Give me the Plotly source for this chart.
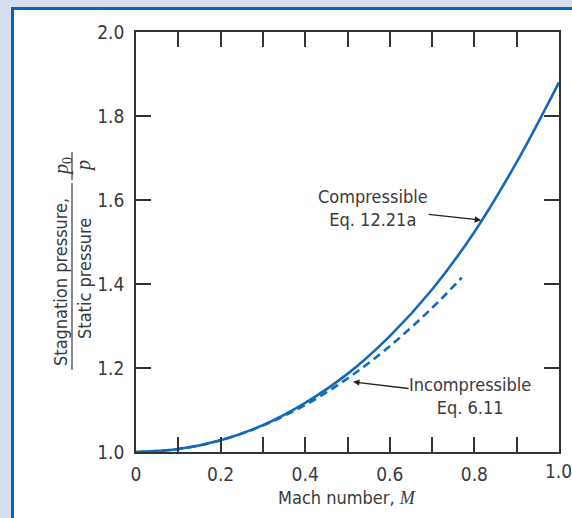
import plotly.graph_objects as go

# ---- data ----
mach_comp = [0.0, 0.1, 0.2, 0.3, 0.4, 0.5, 0.6, 0.7, 0.8, 0.9, 1.0]
ratio_comp = [1.000, 1.007, 1.028, 1.064, 1.117, 1.186, 1.276, 1.387, 1.524, 1.690, 1.880]

mach_incomp = [0.0, 0.1, 0.2, 0.3, 0.4, 0.5, 0.6, 0.7, 0.77]
ratio_incomp = [1.000, 1.007, 1.028, 1.063, 1.112, 1.175, 1.252, 1.343, 1.415]

x_tickvals = [0.0, 0.2, 0.4, 0.6, 0.8, 1.0]
x_ticktext = ["0", "0.2", "0.4", "0.6", "0.8", "1.0"]
y_tickvals = [1.0, 1.2, 1.4, 1.6, 1.8, 2.0]
y_ticktext = ["1.0", "1.2", "1.4", "1.6", "1.8", "2.0"]

W, H = 572, 518
L, R, T, B = 136, 13, 32, 66
PW, PH = W - L - R, H - T - B


def px(x):
    return (x - L) / PW


def py(y):
    return (H - B - y) / PH


FONT = "Liberation Sans Narrow, DejaVu Sans Condensed, Arial Narrow, sans-serif"
SERIF = "Liberation Serif, DejaVu Serif, serif"
BLUE = "#1469b8"
TXT = "#3a3a3a"

fig = go.Figure()
fig.add_trace(go.Scatter(x=mach_comp, y=ratio_comp, mode="lines",
                         line=dict(color=BLUE, width=2.6, shape="spline"),
                         hoverinfo="skip", showlegend=False))
fig.add_trace(go.Scatter(x=mach_incomp, y=ratio_incomp, mode="lines",
                         line=dict(color=BLUE, width=2.6, dash="8px,5px", shape="spline"),
                         hoverinfo="skip", showlegend=False))

axis_common = dict(showgrid=False, zeroline=False, showline=True, linecolor="#333",
                   linewidth=1.5, mirror="ticks", ticks="inside", ticklen=15,
                   tickwidth=1.5, tickcolor="#333",
                   tickfont=dict(family=FONT, size=19, color=TXT))

fig.update_xaxes(range=[0, 1], tickvals=x_tickvals, ticktext=x_ticktext,
                 ticklabelstandoff=4,
                 minor=dict(ticks="inside", dtick=0.1, tick0=0, ticklen=15,
                            tickwidth=1.5, tickcolor="#333", showgrid=False),
                 **axis_common)
fig.update_yaxes(range=[1.0, 2.0], tickvals=y_tickvals, ticktext=y_ticktext,
                 ticklabelstandoff=6, **axis_common)

shapes = [
    # white panel with blue border (top & left)
    dict(type="rect", xref="paper", yref="paper", x0=px(12.5), x1=px(600),
         y0=py(600), y1=py(8.5), fillcolor="white",
         line=dict(color="#0a64b4", width=3), layer="below"),
    # y-title fraction bars
    dict(type="line", xref="paper", yref="paper", x0=px(72), x1=px(72),
         y0=py(370), y1=py(183), line=dict(color=TXT, width=1.2)),
    dict(type="line", xref="paper", yref="paper", x0=px(72), x1=px(72),
         y0=py(180), y1=py(152), line=dict(color=TXT, width=1.2)),
]

ann = []
def txt(x, y, s, size=18, angle=0, family=FONT):
    ann.append(dict(x=px(x), y=py(y), xref="paper", yref="paper", text=s,
                    showarrow=False, xanchor="center", yanchor="middle",
                    textangle=angle, font=dict(family=family, size=size, color=TXT)))

txt(60, 282, "Stagnation pressure,", angle=-90)
txt(84, 279, "Static pressure", angle=-90)
txt(62, 167, "<i>p</i><sub>0</sub>", size=20, angle=-90, family=SERIF)
txt(83, 166, "<i>p</i>", size=20, angle=-90, family=SERIF)
txt(347, 497, "Mach number, <i><span style='font-family:Liberation Serif'>M</span></i>")
# last x tick label at the right edge
txt(558, 471, "1.0", size=19)

# labelled arrows (head on the curve, text at the tail)
ann.append(dict(x=0.816, y=1.552, xref="x", yref="y", ax=-108, ay=-12,
                text="Compressible<br>Eq. 12.21a", showarrow=True, arrowhead=2,
                arrowsize=1, arrowwidth=1.3, arrowcolor="#222", standoff=0,
                borderpad=0, font=dict(family=FONT, size=18, color=TXT)))
ann.append(dict(x=0.513, y=1.167, xref="x", yref="y", ax=117, ay=14,
                text="Incompressible<br>Eq. 6.11", showarrow=True, arrowhead=2,
                arrowsize=1, arrowwidth=1.3, arrowcolor="#222", standoff=0,
                borderpad=0, font=dict(family=FONT, size=18, color=TXT)))

fig.update_layout(width=W, height=H, margin=dict(l=L, r=R, t=T, b=B),
                  paper_bgcolor="#d4deef", plot_bgcolor="white",
                  shapes=shapes, annotations=ann, showlegend=False)

fig.write_html("out.html", config={"displayModeBar": False},
               post_script="document.body.style.margin='0';document.body.style.overflow='hidden';")
